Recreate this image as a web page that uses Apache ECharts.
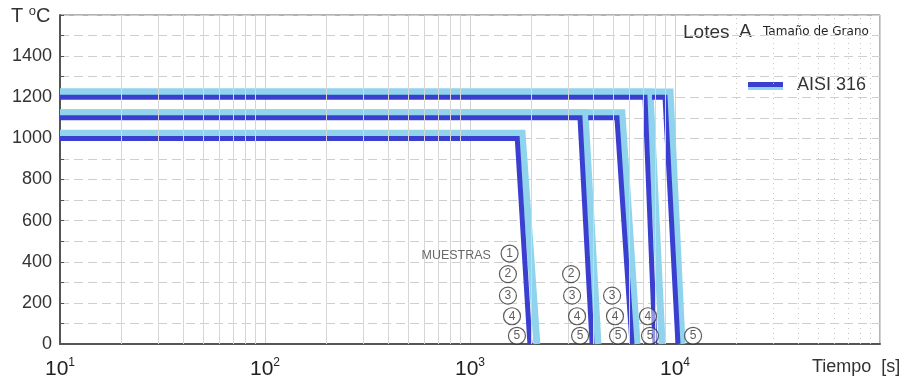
<!DOCTYPE html>
<html>
<head>
<meta charset="utf-8">
<script src="https://cdn.jsdelivr.net/npm/echarts@6/dist/echarts.min.js"></script>
<style>
  html, body { margin: 0; padding: 0; background: #fff; }
  #chart { width: 906px; height: 384px; }
</style>
</head>
<body>
<div id="chart"></div>
<script>
// Hold-and-cool curves for AISI 316, lot A (time in seconds, temperature in °C)

// Dark traces: one per sample
const holdTemp  = [1000, 1100, 1100, 1200, 1200];
const holdStart = [10, 10, 3770, 10, 7720];
const holdEnd   = [1700, 3440, 5210, 7140, 8940];
const coolEnd   = [1960, 3940, 6170, 7980, 10340];

// Light traces (grain size reference)
const grainTemp    = [1025, 1125, 1125, 1225, 1225];
const grainStart   = [10, 10, 10, 10, 10];
const grainHoldEnd = [1795, 3640, 5510, 7550, 9460];
const grainCoolEnd = [2120, 4210, 6530, 8650, 10820];

// Numbered sample markers
const markerTime = [1560, 1531, 1531, 1603, 1694, 3112, 3148, 3329, 3443, 4932, 5096, 5272, 7380, 7550, 12250];
const markerTemp = [440, 340, 235, 135, 40, 340, 235, 135, 40, 235, 135, 40, 135, 40, 40];
const markerNum  = ['1', '2', '3', '4', '5', '2', '3', '4', '5', '3', '4', '5', '4', '5', '5'];
const markerCaption = 'MUESTRAS';
const captionTime = 1400;
const captionTemp = 432;

// Intermediate grid lines on the log time axis
const minorTimesSolid  = [20, 30, 40, 50, 60, 70, 80, 90, 200, 300, 400, 500, 600, 700, 800, 900,
                          2000, 3000, 4000, 5000, 6000, 7000, 8000, 9000];
const minorTimesDotted = [20000, 30000, 40000, 50000, 60000, 70000, 80000, 90000];

const DARK = '#3b3fcf';
const LIGHT = '#8fd4ec';
const FONT = '"Liberation Sans", Arial, sans-serif';

const series = [];

// grid helper lines
series.push({
  type: 'line', data: [], silent: true,
  markLine: {
    silent: true, symbol: 'none', animation: false,
    label: { show: false },
    lineStyle: { color: '#d6d6d6', width: 1, type: 'solid' },
    data: minorTimesSolid.map(v => ({ xAxis: v }))
  }
});
series.push({
  type: 'line', data: [], silent: true,
  markLine: {
    silent: true, symbol: 'none', animation: false,
    label: { show: false },
    lineStyle: { color: '#c8c8c8', width: 1, type: [1, 4] },
    data: minorTimesDotted.map(v => ({ xAxis: v }))
  }
});

grainTemp.forEach((t, i) => {
  series.push({
    name: 'grano', type: 'line', symbol: 'none', z: 3,
    lineStyle: { color: LIGHT, width: 7, join: 'miter', cap: 'butt' },
    data: [[grainStart[i], t], [grainHoldEnd[i], t], [grainCoolEnd[i], 0]]
  });
});

holdTemp.forEach((t, i) => {
  series.push({
    name: 'AISI 316', type: 'line', symbol: 'none', z: 4,
    color: DARK,
    lineStyle: { color: DARK, width: 5, join: 'miter', cap: 'butt' },
    data: [[holdStart[i], t], [holdEnd[i], t], [coolEnd[i], 0]]
  });
});

series.push({
  type: 'scatter', z: 6, symbol: 'circle', symbolSize: 17,
  itemStyle: { color: 'rgba(255,255,255,0.55)', borderColor: '#333', borderWidth: 1.2 },
  label: {
    show: true, position: 'inside', color: '#333', fontSize: 12, fontFamily: FONT,
    formatter: p => p.value[2]
  },
  data: markerTime.map((x, i) => [x, markerTemp[i], markerNum[i]])
});

series.push({
  type: 'scatter', z: 6, symbolSize: 0,
  label: {
    show: true, position: 'left', distance: 9, color: '#444', fontSize: 12.5, fontFamily: FONT,
    formatter: () => markerCaption
  },
  data: [[captionTime, captionTemp]]
});

const option = {
  animation: false,
  backgroundColor: '#fff',
  grid: {
    left: 60, right: 26, top: 15, bottom: 40,
    show: true, borderColor: '#666', borderWidth: 1
  },
  xAxis: {
    type: 'log', logBase: 10, min: 10, max: 100000,
    axisLine: { show: true, onZero: false, lineStyle: { color: '#555', width: 2 } },
    axisTick: { show: false },
    splitLine: { show: true, lineStyle: { color: '#d0d0d0', width: 1 } },
    axisLabel: {
      margin: 13, color: '#222',
      formatter: v => {
        const e = Math.round(Math.log10(v));
        return e >= 5 ? '' : '{b|10}{s|' + e + '}';
      },
      rich: {
        b: { fontSize: 21, fontFamily: FONT, color: '#222', lineHeight: 24 },
        s: { fontSize: 12, fontFamily: FONT, color: '#222', verticalAlign: 'top', lineHeight: 12 }
      }
    }
  },
  yAxis: {
    type: 'value', min: 0, max: 1600, interval: 100,
    axisLine: { show: true, lineStyle: { color: '#555', width: 2 } },
    axisTick: { show: true, inside: true, length: 4, lineStyle: { color: '#555' } },
    splitLine: { show: true, lineStyle: { color: '#cfcfcf', width: 1, type: [9, 5] } },
    axisLabel: {
      margin: 8, color: '#333', fontSize: 18, fontFamily: FONT,
      formatter: v => (v % 200 === 0 && v < 1600) ? String(v) : ''
    }
  },
  legend: {
    data: ['AISI 316'], left: 748, top: 76, padding: 0,
    icon: 'rect', itemWidth: 35, itemHeight: 6,
    textStyle: { fontSize: 18, fontFamily: FONT, color: '#333', padding: [0, 0, 0, 9] }
  },
  graphic: [
    { type: 'rect', left: 748, top: 87, shape: { width: 35, height: 3 }, style: { fill: LIGHT }, z: 10 },
    { type: 'text', left: 11, top: 5, style: { text: '{t|T }{o|o}{t|C}', rich: {
        t: { fontSize: 20, fontFamily: FONT, fill: '#333', lineHeight: 22 },
        o: { fontSize: 13, fontFamily: FONT, fill: '#333', verticalAlign: 'top', lineHeight: 13 } } } },
    { type: 'text', left: 683, top: 23, style: { text: 'Lotes', fontSize: 19, fontFamily: FONT, fill: '#333' } },
    { type: 'text', left: 739, top: 22, style: { text: 'A', fontSize: 19, fontFamily: FONT, fill: '#333' } },
    { type: 'text', left: 763, top: 26, style: { text: 'Tamaño de Grano', fontSize: 12, fontFamily: '"DejaVu Sans", sans-serif', fill: '#222' } },
    { type: 'text', left: 812, top: 358, style: { text: 'Tiempo  [s]', fontSize: 18, fontFamily: FONT, fill: '#333' } }
  ],
  series: series
};

const chart = echarts.init(document.getElementById('chart'), null, { renderer: 'canvas' });
chart.setOption(option);
</script>
</body>
</html>
